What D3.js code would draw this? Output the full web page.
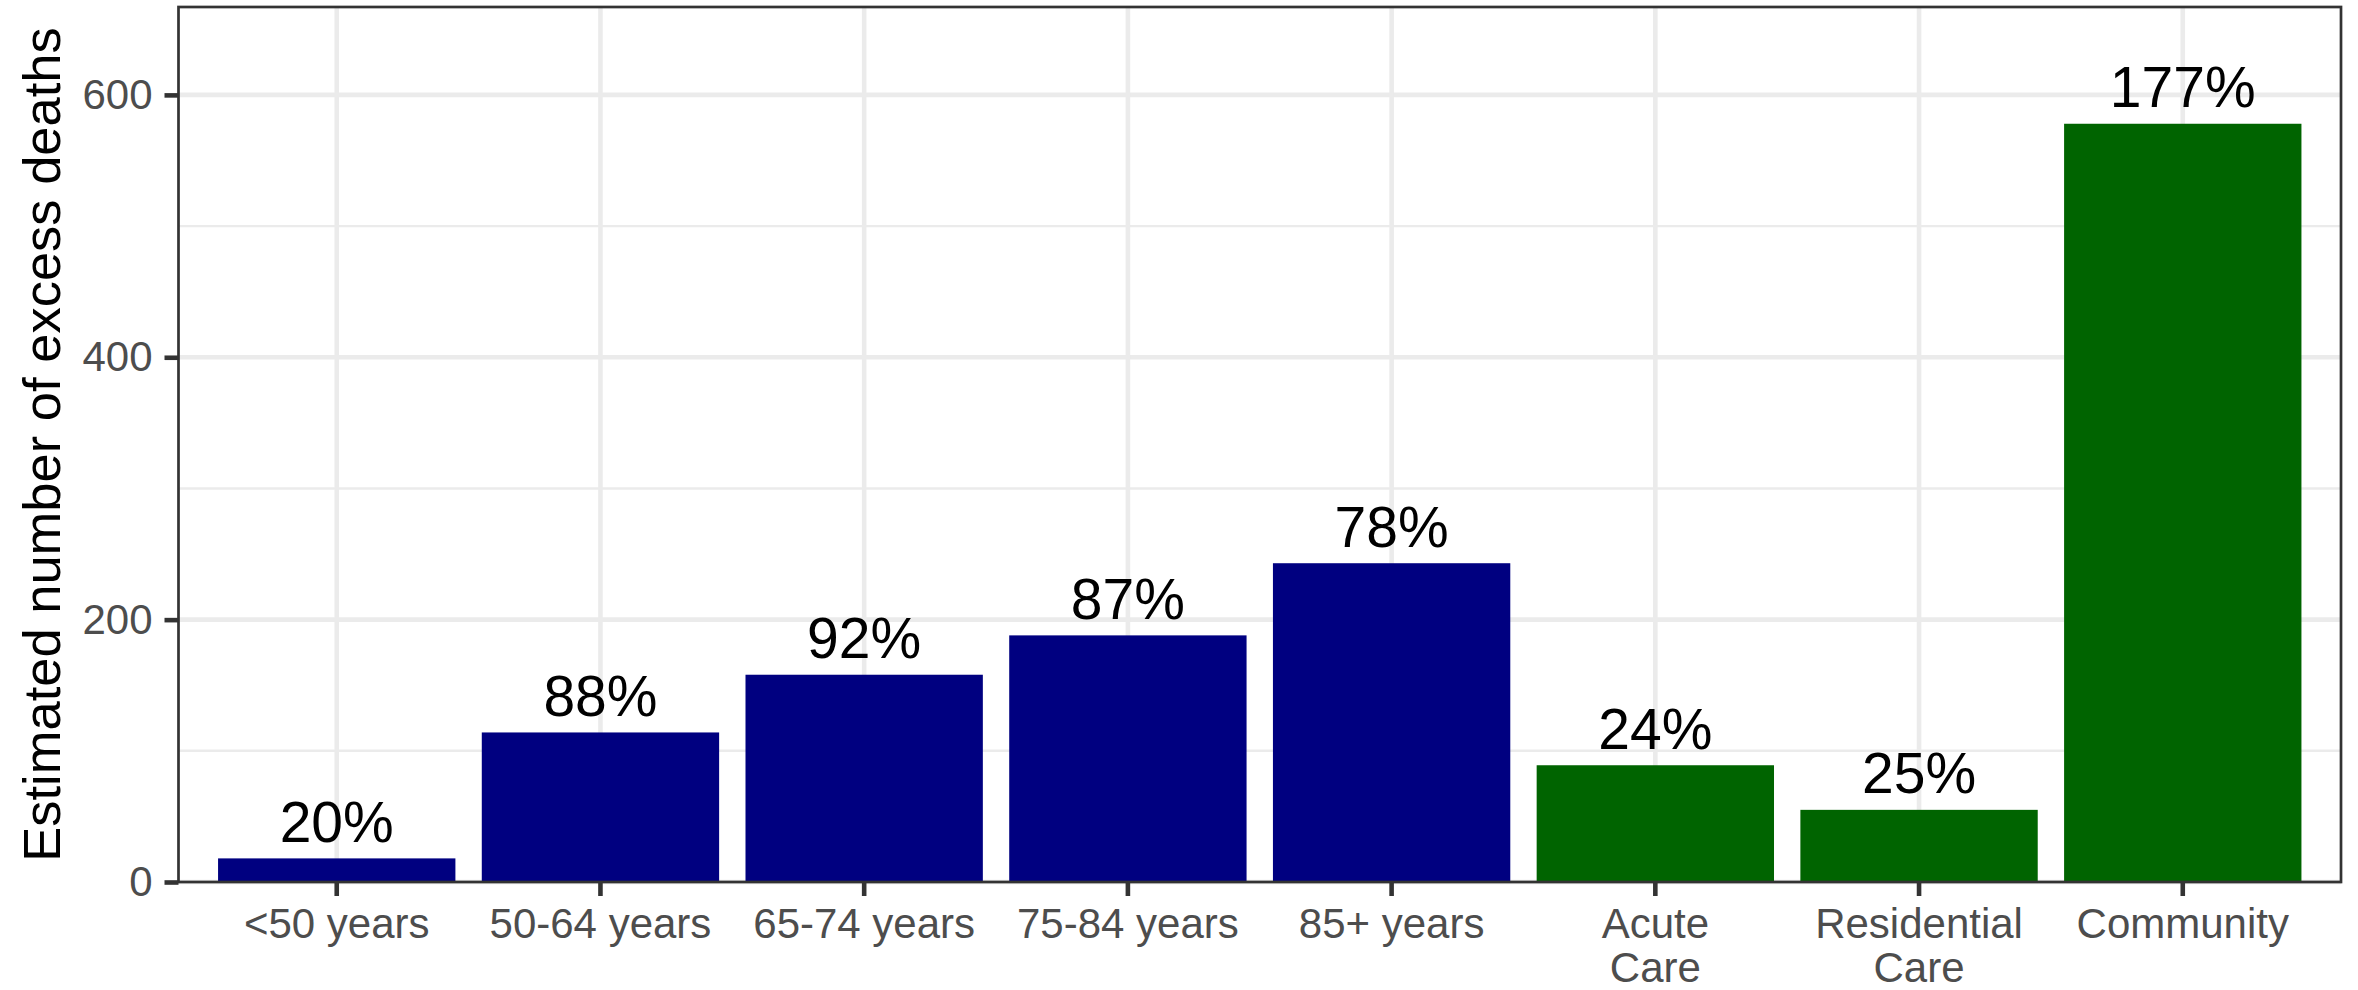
<!DOCTYPE html>
<html>
<head>
<meta charset="utf-8">
<script src="https://cdn.jsdelivr.net/npm/d3@7/dist/d3.min.js"></script>
<style>
  body { margin: 0; background: #fff; }
  text { font-family: "Liberation Sans", Arial, sans-serif; }
</style>
</head>
<body>
<svg id="chart"></svg>
<script>
// values
const categories = ['<50 years', '50-64 years', '65-74 years', '75-84 years', '85+ years', 'Acute\nCare', 'Residential\nCare', 'Community'];
const excessDeaths = [18, 114, 158, 188, 243, 89, 55, 578];
const pctLabels = ['20%', '88%', '92%', '87%', '78%', '24%', '25%', '177%'];
const groups = ['age', 'age', 'age', 'age', 'age', 'place', 'place', 'place'];
const majorTicks = [0, 200, 400, 600];
const minorTicks = [100, 300, 500];

const width = 2358;
const height = 990;
const margin = { top: 7, right: 17, bottom: 108, left: 178.5 };
const innerW = width - margin.left - margin.right;
const innerH = height - margin.top - margin.bottom;

const colour = d3.scaleOrdinal().domain(['age', 'place']).range(['#000080', '#006400']);

const svg = d3.select('#chart')
  .attr('width', width)
  .attr('height', height);

svg.append('rect')
  .attr('width', width)
  .attr('height', height)
  .attr('fill', '#fff');

const chart = svg.append('g')
  .attr('transform', `translate(${margin.left}, ${margin.top})`);

const xScale = d3.scaleBand()
  .domain(categories)
  .range([0, innerW])
  .paddingInner(0.1)
  .paddingOuter(0.15);

const yScale = d3.scaleLinear()
  .domain([0, 667])
  .range([innerH, 0]);

// grid
chart.selectAll('.minor')
  .data(minorTicks)
  .enter().append('line')
  .attr('x1', 0).attr('x2', innerW)
  .attr('y1', (d) => yScale(d)).attr('y2', (d) => yScale(d))
  .attr('stroke', '#ebebeb')
  .attr('stroke-width', 2.4);

chart.selectAll('.major')
  .data(majorTicks)
  .enter().append('line')
  .attr('x1', 0).attr('x2', innerW)
  .attr('y1', (d) => yScale(d)).attr('y2', (d) => yScale(d))
  .attr('stroke', '#ebebeb')
  .attr('stroke-width', 4.6);

chart.selectAll('.vgrid')
  .data(categories)
  .enter().append('line')
  .attr('x1', (d) => xScale(d) + xScale.bandwidth() / 2)
  .attr('x2', (d) => xScale(d) + xScale.bandwidth() / 2)
  .attr('y1', 0).attr('y2', innerH)
  .attr('stroke', '#ebebeb')
  .attr('stroke-width', 4.6);

// bars
chart.selectAll('.bar')
  .data(categories)
  .enter().append('rect')
  .attr('class', 'bar')
  .attr('x', (d) => xScale(d))
  .attr('width', xScale.bandwidth())
  .attr('y', (d, i) => yScale(excessDeaths[i]))
  .attr('height', (d, i) => innerH - yScale(excessDeaths[i]))
  .attr('fill', (d, i) => colour(groups[i]));

// percentage labels
chart.selectAll('.pct')
  .data(categories)
  .enter().append('text')
  .attr('x', (d) => xScale(d) + xScale.bandwidth() / 2)
  .attr('y', (d, i) => yScale(excessDeaths[i]) - 16.5)
  .attr('text-anchor', 'middle')
  .attr('font-size', 57)
  .attr('fill', '#000')
  .text((d, i) => pctLabels[i]);

// panel border
chart.append('rect')
  .attr('x', 0).attr('y', 0)
  .attr('width', innerW).attr('height', innerH)
  .attr('fill', 'none')
  .attr('stroke', '#333333')
  .attr('stroke-width', 2.7);

// y axis
const yAxis = d3.axisLeft(yScale)
  .tickValues(majorTicks)
  .tickSize(14)
  .tickPadding(12);

const yg = chart.append('g').call(yAxis);
yg.select('.domain').remove();
yg.selectAll('.tick line').attr('stroke', '#333333').attr('stroke-width', 4.6);
yg.selectAll('.tick text')
  .attr('font-size', 42)
  .attr('fill', '#4d4d4d')
  .attr('font-family', '"Liberation Sans", Arial, sans-serif');

// x axis
const xAxis = d3.axisBottom(xScale)
  .tickSize(14)
  .tickFormat('');

const xg = chart.append('g')
  .attr('transform', `translate(0, ${innerH})`)
  .call(xAxis);
xg.select('.domain').remove();
xg.selectAll('.tick line').attr('stroke', '#333333').attr('stroke-width', 4.6);

xg.selectAll('.tick')
  .append('text')
  .attr('text-anchor', 'middle')
  .attr('font-size', 42)
  .attr('fill', '#4d4d4d')
  .attr('font-family', '"Liberation Sans", Arial, sans-serif')
  .selectAll('tspan')
  .data((d) => d.split('\n'))
  .enter().append('tspan')
  .attr('x', 0)
  .attr('y', (d, i) => 56 + i * 44)
  .text((d) => d);

// y title
svg.append('text')
  .attr('transform', `translate(60, ${margin.top + innerH / 2}) rotate(-90)`)
  .attr('text-anchor', 'middle')
  .attr('font-size', 52.5)
  .attr('fill', '#000')
  .text('Estimated number of excess deaths');
</script>
</body>
</html>
